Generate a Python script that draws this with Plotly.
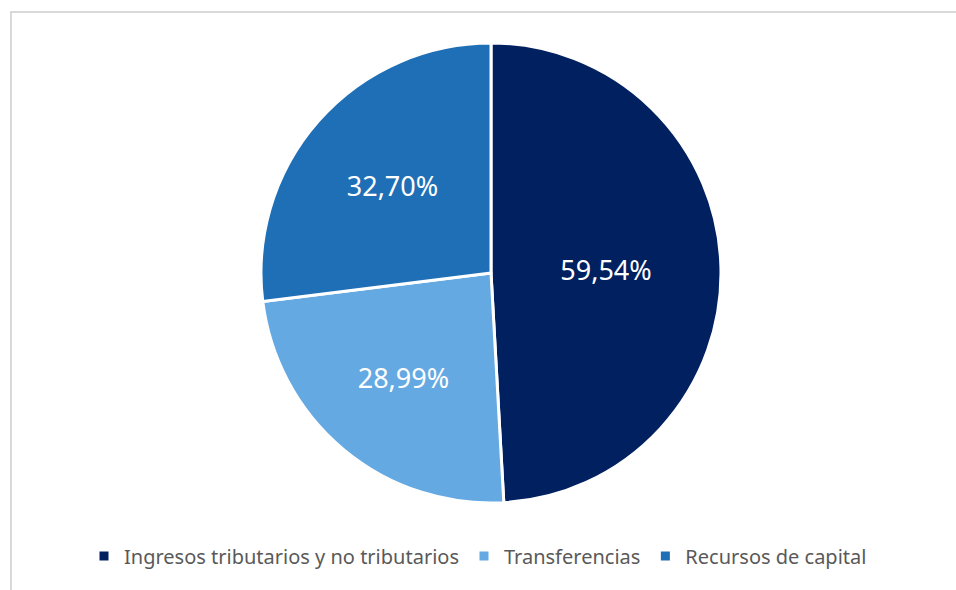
import plotly.graph_objects as go

categories = ["Ingresos tributarios y no tributarios", "Transferencias", "Recursos de capital"]
values = [59.54, 28.99, 32.70]
colors = ["#002060", "#65A9E2", "#1F6FB7"]

W, H = 956, 590
cx, cy, r = 491, 273, 230

fig = go.Figure(go.Pie(
    labels=categories,
    values=values,
    sort=False,
    direction="clockwise",
    rotation=0,
    marker=dict(colors=colors, line=dict(color="white", width=3)),
    texttemplate="%{value:.2f}%",
    textposition="inside",
    insidetextorientation="horizontal",
    textfont=dict(family="Noto Sans", size=27, color="white"),
    hoverinfo="label+value",
    domain=dict(x=[(cx - r) / W, (cx + r) / W], y=[1 - (cy + r) / H, 1 - (cy - r) / H]),
))

fig.update_layout(
    width=W, height=H,
    margin=dict(l=0, r=0, t=0, b=0),
    paper_bgcolor="white",
    separators=",.",
    showlegend=True,
    legend=dict(
        orientation="h",
        x=0.5, xanchor="center",
        y=1 - 556 / H, yanchor="middle",
        font=dict(family="Noto Sans", size=20, color="#595959"),
        itemwidth=30,
        traceorder="normal",
    ),
    shapes=[dict(type="rect", xref="paper", yref="paper",
                 x0=11 / W, x1=1.05, y0=-0.05, y1=1 - 12 / H,
                 line=dict(color="#D9D9D9", width=2), fillcolor="rgba(0,0,0,0)", layer="below")],
)

fig.write_html("out.html", config={"displayModeBar": False},
               post_script="document.body.style.margin='0px';document.body.style.overflow='hidden';")
